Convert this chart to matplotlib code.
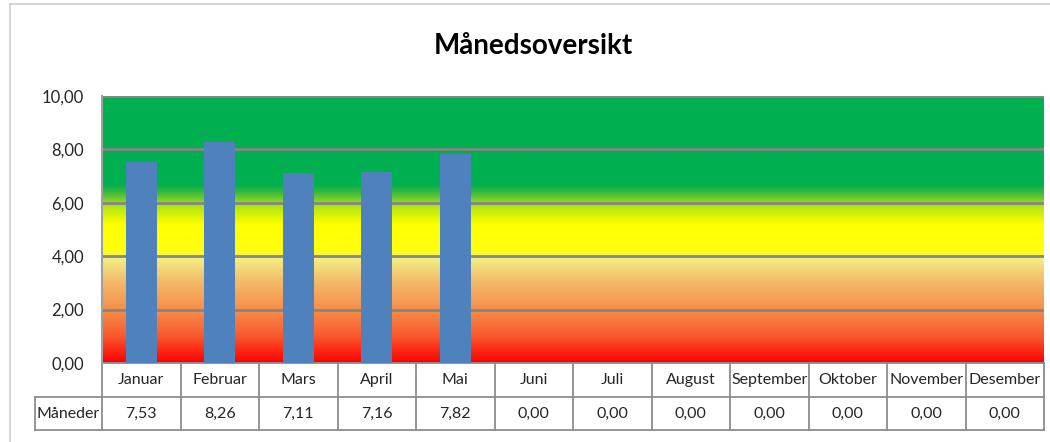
import matplotlib.pyplot as plt
import numpy as np
from matplotlib.colors import LinearSegmentedColormap
from matplotlib.transforms import blended_transform_factory
from matplotlib.lines import Line2D

# Data
months = ['Januar', 'Februar', 'Mars', 'April', 'Mai', 'Juni', 'Juli',
          'August', 'September', 'Oktober', 'November', 'Desember']
values = [7.53, 8.26, 7.11, 7.16, 7.82, 0, 0, 0, 0, 0, 0, 0]
series_name = 'Måneder'
title = 'Månedsoversikt'

font = 'Lato'
plt.rcParams['font.family'] = [font, 'DejaVu Sans']

fig = plt.figure(figsize=(10.5, 4.42), dpi=100)
ax = fig.add_axes([102 / 1050, 1 - 363 / 442, 942 / 1050, 267 / 442])

# red -> orange -> pale yellow -> yellow -> green background
stops = [(0.00, '#ff0000'), (0.10, '#f85a2e'), (0.20, '#f5904a'),
         (0.30, '#f3b868'), (0.39, '#f2ee84'), (0.42, '#ffff10'),
         (0.52, '#ffff00'), (0.59, '#aee412'), (0.64, '#3cb83e'),
         (0.67, '#00b050'), (1.00, '#00b050')]
cmap = LinearSegmentedColormap.from_list('bg', stops)
grad = np.linspace(0, 1, 400).reshape(-1, 1)
ax.imshow(grad, cmap=cmap, aspect='auto', origin='lower',
          extent=[-0.5, 11.5, 0, 10], zorder=0)

x = np.arange(len(months))
ax.bar(x, values, width=0.4, color='#4f81bd', zorder=3)

ax.set_xlim(-0.5, 11.5)
ax.set_ylim(0, 10)
ax.set_yticks(np.arange(0, 10.1, 2))
ax.set_yticklabels([f'{v:.2f}'.replace('.', ',') for v in np.arange(0, 10.1, 2)],
                   fontsize=12, color='#262626')
ax.tick_params(axis='y', length=0, pad=13)
ax.set_xticks([])
ax.grid(axis='y', color='#868686', linewidth=2, zorder=2)
for s in ['right', 'bottom', 'top']:
    ax.spines[s].set_visible(False)
ax.spines['left'].set_color('#a0a0a0')
ax.spines['left'].set_linewidth(1.5)

# data table under the plot
tr = blended_transform_factory(ax.transData, ax.transAxes)
r1 = -34 / 267
r2 = -67 / 267
hx = -67 / 942
lc = '#8c8c8c'
lw = 1.3


def line(xs, ys, transform):
    ax.add_line(Line2D(xs, ys, transform=transform, color=lc, lw=lw,
                       clip_on=False))


line([0, 1], [0, 0], ax.transAxes)
line([hx, 1], [r1, r1], ax.transAxes)
line([hx, 1], [r2, r2], ax.transAxes)
line([hx, hx], [r1, r2], ax.transAxes)
for b in np.arange(-0.5, 12, 1):
    line([b, b], [0, r2], tr)

for i, m in enumerate(months):
    ax.text(i, r1 / 2, m, transform=tr, ha='center', va='center',
            fontsize=11.5, color='#262626')
    ax.text(i, (r1 + r2) / 2, f'{values[i]:.2f}'.replace('.', ','),
            transform=tr, ha='center', va='center', fontsize=11.5,
            color='#262626')
ax.text(hx / 2, (r1 + r2) / 2, series_name, transform=ax.transAxes,
        ha='center', va='center', fontsize=11.5, color='#262626')

fig.text(533 / 1050, 1 - 46 / 442, title, ha='center', va='center',
         fontsize=20, fontweight='bold', color='black')

# chart area frame
fig.add_artist(Line2D([10 / 1050, 10 / 1050], [0, 1 - 4 / 442],
                      transform=fig.transFigure, color='#d0d0d0', lw=1.2))
fig.add_artist(Line2D([10 / 1050, 1], [1 - 4 / 442, 1 - 4 / 442],
                      transform=fig.transFigure, color='#d0d0d0', lw=1.2))

fig.savefig('out.png', dpi=100)
